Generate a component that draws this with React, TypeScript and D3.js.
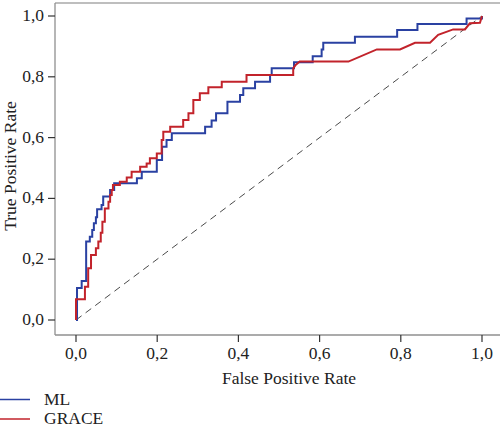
import * as d3 from 'd3';

// ROC points
const mlFpr = [0, 0.0025, 0.014, 0.025, 0.034, 0.04, 0.044, 0.049, 0.052, 0.063, 0.067, 0.084, 0.094, 0.15, 0.162, 0.199, 0.212, 0.223, 0.236, 0.318, 0.334, 0.345, 0.373, 0.404, 0.412, 0.441, 0.478, 0.482, 0.537, 0.583, 0.605, 0.609, 0.687, 0.791, 0.841, 0.962, 1.0];
const mlTpr = [0, 0.105, 0.128, 0.258, 0.274, 0.296, 0.318, 0.338, 0.364, 0.378, 0.406, 0.428, 0.45, 0.466, 0.488, 0.526, 0.57, 0.592, 0.614, 0.636, 0.656, 0.68, 0.718, 0.74, 0.762, 0.784, 0.806, 0.828, 0.848, 0.868, 0.89, 0.912, 0.932, 0.954, 0.974, 0.992, 1.0];

const graceFpr = [0, 0, 0.022, 0.022, 0.03, 0.03, 0.037, 0.037, 0.049, 0.049, 0.055, 0.055, 0.061, 0.061, 0.065, 0.065, 0.071, 0.071, 0.08, 0.08, 0.084, 0.084, 0.088, 0.088, 0.091, 0.091, 0.108, 0.108, 0.125, 0.125, 0.137, 0.137, 0.158, 0.158, 0.174, 0.174, 0.182, 0.182, 0.199, 0.199, 0.211, 0.211, 0.215, 0.215, 0.232, 0.232, 0.264, 0.264, 0.277, 0.277, 0.289, 0.289, 0.305, 0.305, 0.326, 0.326, 0.359, 0.359, 0.42, 0.42, 0.535, 0.535, 0.541, 0.551, 0.671, 0.741, 0.798, 0.835, 0.872, 0.892, 0.929, 0.958, 0.97, 0.995, 1.0];
const graceTpr = [0, 0.068, 0.068, 0.109, 0.109, 0.17, 0.17, 0.214, 0.214, 0.236, 0.236, 0.258, 0.258, 0.287, 0.287, 0.323, 0.323, 0.367, 0.367, 0.389, 0.389, 0.411, 0.411, 0.428, 0.428, 0.444, 0.444, 0.455, 0.455, 0.469, 0.469, 0.488, 0.488, 0.504, 0.504, 0.515, 0.515, 0.532, 0.532, 0.548, 0.548, 0.592, 0.592, 0.619, 0.619, 0.636, 0.636, 0.658, 0.658, 0.68, 0.68, 0.724, 0.724, 0.746, 0.746, 0.766, 0.766, 0.784, 0.784, 0.806, 0.806, 0.828, 0.839, 0.85, 0.85, 0.89, 0.89, 0.912, 0.912, 0.938, 0.956, 0.956, 0.976, 0.978, 1.0];

const ticks = [0, 0.2, 0.4, 0.6, 0.8, 1.0];
const seriesNames = ['ML', 'GRACE'];
const seriesColors = ['#2a41a2', '#c2232b'];

const W = 500;
const H = 429;
const FONT = 'Liberation Serif';
const FS = '17.5px';

const x = d3.scaleLinear().domain([0, 1]).range([76, 482]);
const y = d3.scaleLinear().domain([0, 1]).range([320, 16]);
const fmt = (d: number) => d.toFixed(1).replace('.', ',');

type Pt = [number, number];
const stepLine = d3.line<Pt>().x((d) => x(d[0])).y((d) => y(d[1])).curve(d3.curveStepAfter);
const straightLine = d3.line<Pt>().x((d) => x(d[0])).y((d) => y(d[1]));

export default function App() {
  const mlData = mlFpr.map((f, i) => [f, mlTpr[i]] as Pt);
  const graceData = graceFpr.map((f, i) => [f, graceTpr[i]] as Pt);
  const textStyle = { fontFamily: FONT, fontSize: FS };

  return (
    <svg width={W} height={H} style={{ position: 'absolute', left: 0, top: 0, background: '#fff' }}>
      {/* frame */}
      <line x1={55} x2={500} y1={3} y2={3} stroke="#a8a8a8" strokeWidth={1.5} />
      <line x1={55} x2={55} y1={3} y2={335} stroke="#8f8f8f" strokeWidth={1.3} />
      <line x1={55} x2={500} y1={335} y2={335} stroke="#8f8f8f" strokeWidth={1.3} />

      {/* y ticks */}
      {ticks.map((t) => (
        <g key={'y' + t}>
          <line x1={48} x2={55} y1={y(t)} y2={y(t)} stroke="#333" strokeWidth={1.2} />
          <text x={44} y={y(t) + 5} textAnchor="end" fill="#222" style={textStyle}>
            {fmt(t)}
          </text>
        </g>
      ))}

      {/* x ticks */}
      {ticks.map((t) => (
        <g key={'x' + t}>
          <line x1={x(t)} x2={x(t)} y1={335} y2={342} stroke="#333" strokeWidth={1.2} />
          <text x={x(t)} y={359} textAnchor="middle" fill="#222" style={textStyle}>
            {fmt(t)}
          </text>
        </g>
      ))}

      {/* axis titles */}
      <text x={289} y={384} textAnchor="middle" fill="#222" style={textStyle}>
        False Positive Rate
      </text>
      <text transform="translate(16,166) rotate(-90)" textAnchor="middle" fill="#222" style={textStyle}>
        True Positive Rate
      </text>

      {/* chance line */}
      <line
        x1={x(0)} y1={y(0)} x2={x(1)} y2={y(1)}
        stroke="#4a4a4a" strokeWidth={1} strokeDasharray="7,5"
      />

      {/* curves */}
      <path d={stepLine(mlData) ?? ''} fill="none" stroke={seriesColors[0]} strokeWidth={2} />
      <path d={straightLine(graceData) ?? ''} fill="none" stroke={seriesColors[1]} strokeWidth={2} />

      {/* legend */}
      {seriesNames.map((name, i) => {
        const ly = 399.5 + i * 19.5;
        return (
          <g key={name}>
            <line x1={0} x2={30} y1={ly} y2={ly} stroke={seriesColors[i]} strokeWidth={1.5} />
            <text x={44} y={ly + 5} fill="#222" style={textStyle}>
              {name}
            </text>
          </g>
        );
      })}
    </svg>
  );
}
